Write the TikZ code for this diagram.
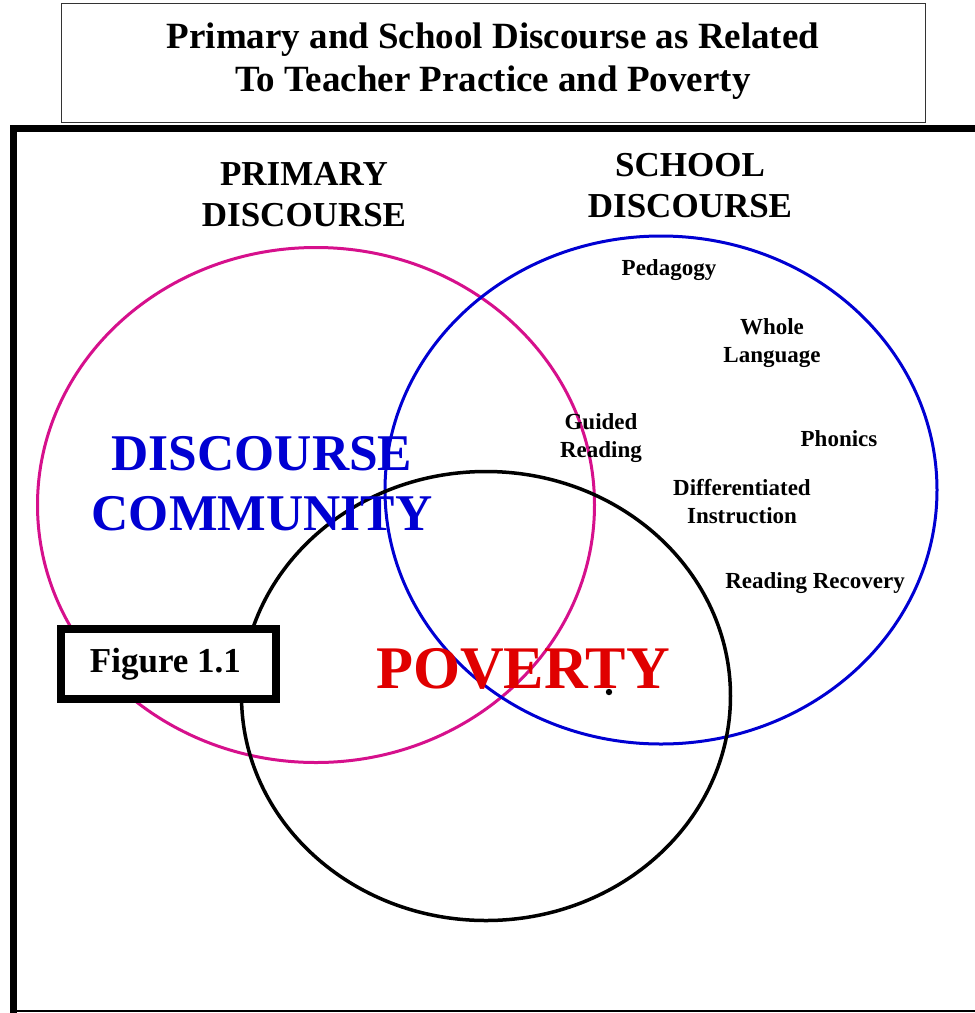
\documentclass[tikz,border=0pt]{standalone}
\usepackage{fontspec}
\setmainfont{Liberation Serif}
\usepackage{xcolor}
\definecolor{ColPink}{RGB}{214,16,140}
\definecolor{ColBlue}{RGB}{0,0,210}
\definecolor{ColRed}{RGB}{224,0,0}
\usetikzlibrary{shapes}
\tikzstyle{Ring}=[ellipse,inner sep=0pt,line width=3pt]
\tikzstyle{Head}=[font=\bfseries\fontsize{35}{41}\selectfont,align=center]
\tikzstyle{Item}=[font=\bfseries\fontsize{23}{28}\selectfont,align=center]
\tikzstyle{Big}=[font=\bfseries\fontsize{51.5}{60}\selectfont,align=center]
\tikzstyle{Title}=[font=\bfseries\fontsize{37}{43}\selectfont,align=center]

\begin{document}
\begin{tikzpicture}[x=1pt,y=-1pt]
    \useasboundingbox (0,0) rectangle (975,1013);
    % frame
    \draw[line width=7pt] (10,128.5) -- (975,128.5);
    \draw[line width=7.5pt] (13.25,125) -- (13.25,1013);
    \draw[line width=1.5pt] (17,1011) -- (975,1011);
    % title
    \draw[line width=1pt,black!80] (61,3) rectangle (925,122);
    \node[Title](title)at(493,61){Primary and School Discourse as Related\\To Teacher Practice and Poverty};
    % circles
    \node[Ring,draw=ColPink,minimum width=557pt,minimum height=515pt](Primary)at(316,505){};
    \node[Ring,draw=ColBlue,minimum width=552pt,minimum height=508pt](School)at(661,490){};
    \node[Ring,draw=black,line width=3.5pt,minimum width=489pt,minimum height=449pt](Poor)at(486,696){};
    % labels
    \node[Head](primary)at(304,195){PRIMARY\\DISCOURSE};
    \node[Head](school)at(690,186){SCHOOL\\DISCOURSE};
    \node[Item](pedagogy)at(669,270){Pedagogy};
    \node[Item](whole)at(772,343){Whole\\Language};
    \node[Item](guided)at(601,438){Guided\\Reading};
    \node[Item](phonics)at(839,439){Phonics};
    \node[Item](diff)at(742,502){Differentiated\\Instruction};
    \node[Item](recovery)at(815,583){Reading Recovery};
    \node[Big,text=ColBlue](community)at(262,484){DISCOURSE\\COMMUNITY};
    \node[font=\bfseries\fontsize{60.5}{70}\selectfont,text=ColRed](poverty)at(523,669){POVERTY};
    \fill (609,692) circle (3.2pt);
    % figure tag
    \node[draw,fill=white,line width=8pt,minimum width=215pt,minimum height=70pt,
        font=\bfseries\fontsize{35}{41}\selectfont](figure)at(168.5,664){Figure 1.1\hspace*{6pt}};
\end{tikzpicture}
\end{document}
